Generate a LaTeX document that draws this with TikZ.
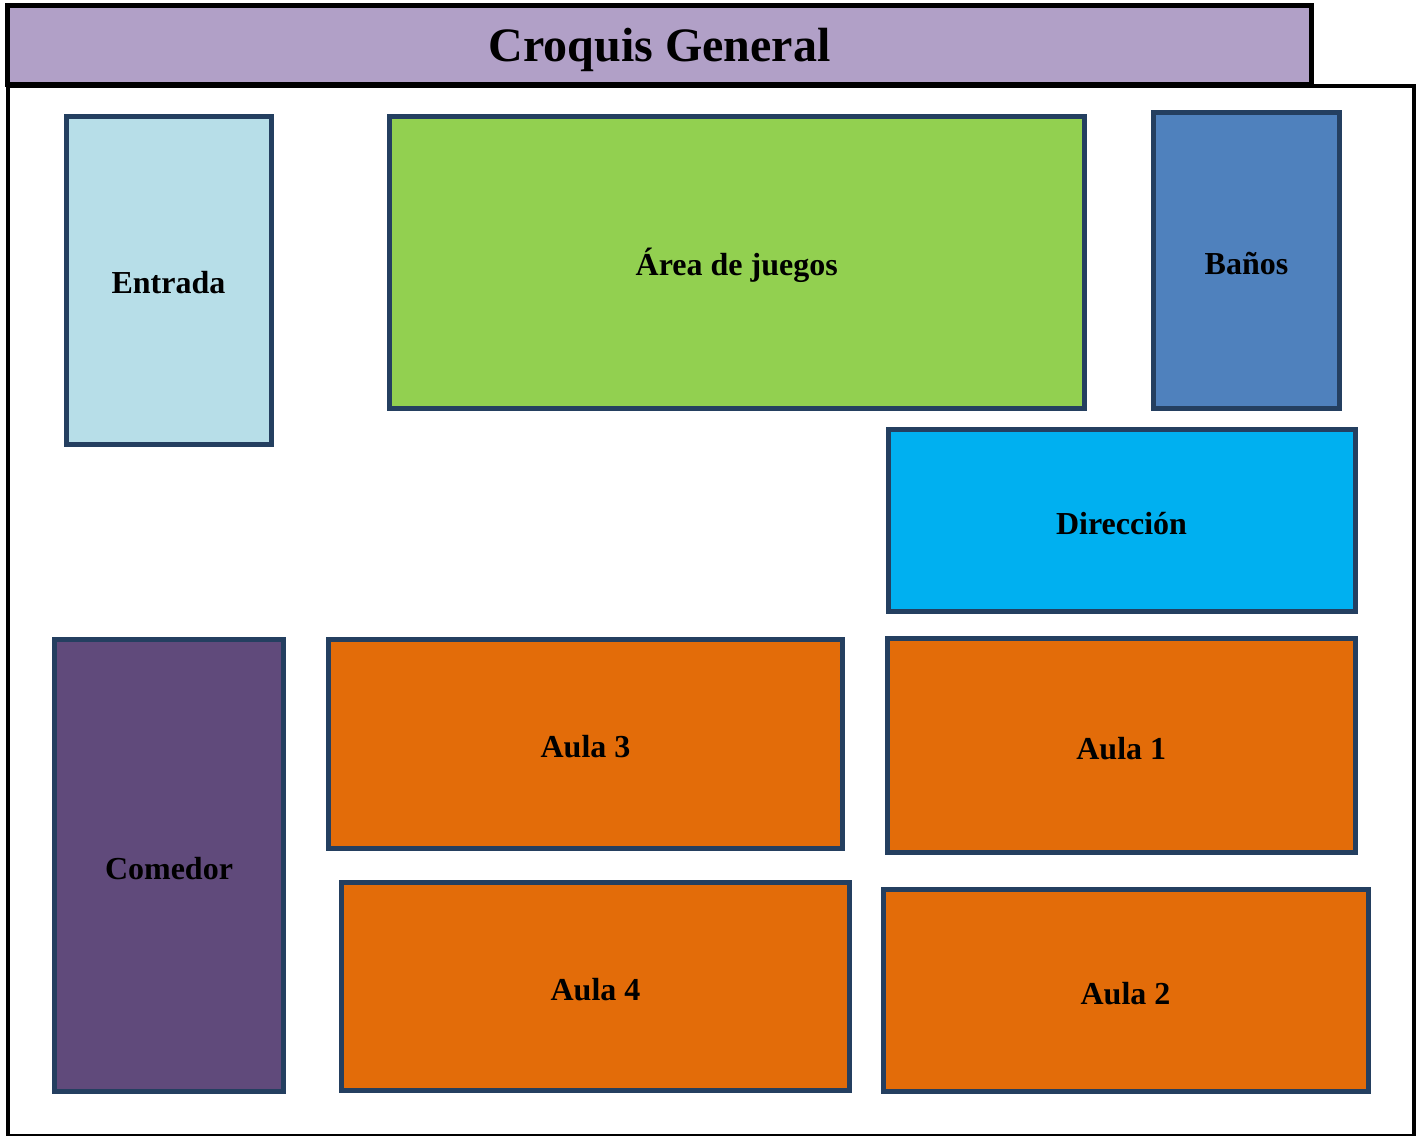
\documentclass[tikz,border=0pt]{standalone}
\usepackage{fontspec}
\setmainfont{Liberation Serif}
\definecolor{roomline}{HTML}{243F60}
\definecolor{titlefill}{HTML}{B1A0C7}
\definecolor{entradafill}{HTML}{B7DEE8}
\definecolor{juegosfill}{HTML}{92D050}
\definecolor{banosfill}{HTML}{4F81BD}
\definecolor{direccionfill}{HTML}{00B0F0}
\definecolor{comedorfill}{HTML}{604A7B}
\definecolor{aulafill}{HTML}{E36C09}
\tikzset{
  room/.style={draw=roomline, line width=2.5pt},
  roomname/.style={font=\fontsize{16}{19}\selectfont\bfseries, yshift=-1.5pt},
}

\begin{document}
\begin{tikzpicture}[x=0.5pt,y=-0.5pt]
    \useasboundingbox (0,0) rectangle (1422,1135);
    %frame and title
    \draw[line width=2pt] (7.5,86) -- (7.5,1135.5) -- (1414,1135.5) -- (1414,86) -- cycle;
    \draw[line width=2.5pt, fill=titlefill] (7.5,5.5) rectangle (1311.5,84)
        node[midway, font=\fontsize{24}{29}\selectfont\bfseries, yshift=-2.5pt] (title) {Croquis General};
    %rooms
    \draw[room, fill=entradafill] (66,116) rectangle (271,444) node[midway, roomname] (entrada) {Entrada};
    \draw[room, fill=juegosfill] (389.5,116.5) rectangle (1084,408) node[midway, roomname] (juegos) {Área de juegos};
    \draw[room, fill=banosfill] (1153.5,112.5) rectangle (1339.5,408) node[midway, roomname] (banos) {Baños};
    \draw[room, fill=direccionfill] (888,429.5) rectangle (1355,611) node[midway, roomname] (direccion) {Dirección};
    \draw[room, fill=comedorfill] (54.5,639.5) rectangle (283.5,1091.5) node[midway, roomname] (comedor) {Comedor};
    \draw[room, fill=aulafill] (328.5,639.5) rectangle (842.5,848.5) node[midway, roomname] (aula3) {Aula 3};
    \draw[room, fill=aulafill] (887,638.5) rectangle (1355.5,852.5) node[midway, roomname] (aula1) {Aula 1};
    \draw[room, fill=aulafill] (341.5,882.5) rectangle (849.5,1090.5) node[midway, roomname] (aula4) {Aula 4};
    \draw[room, fill=aulafill] (883,889.5) rectangle (1368,1091) node[midway, roomname] (aula2) {Aula 2};
\end{tikzpicture}
\end{document}
